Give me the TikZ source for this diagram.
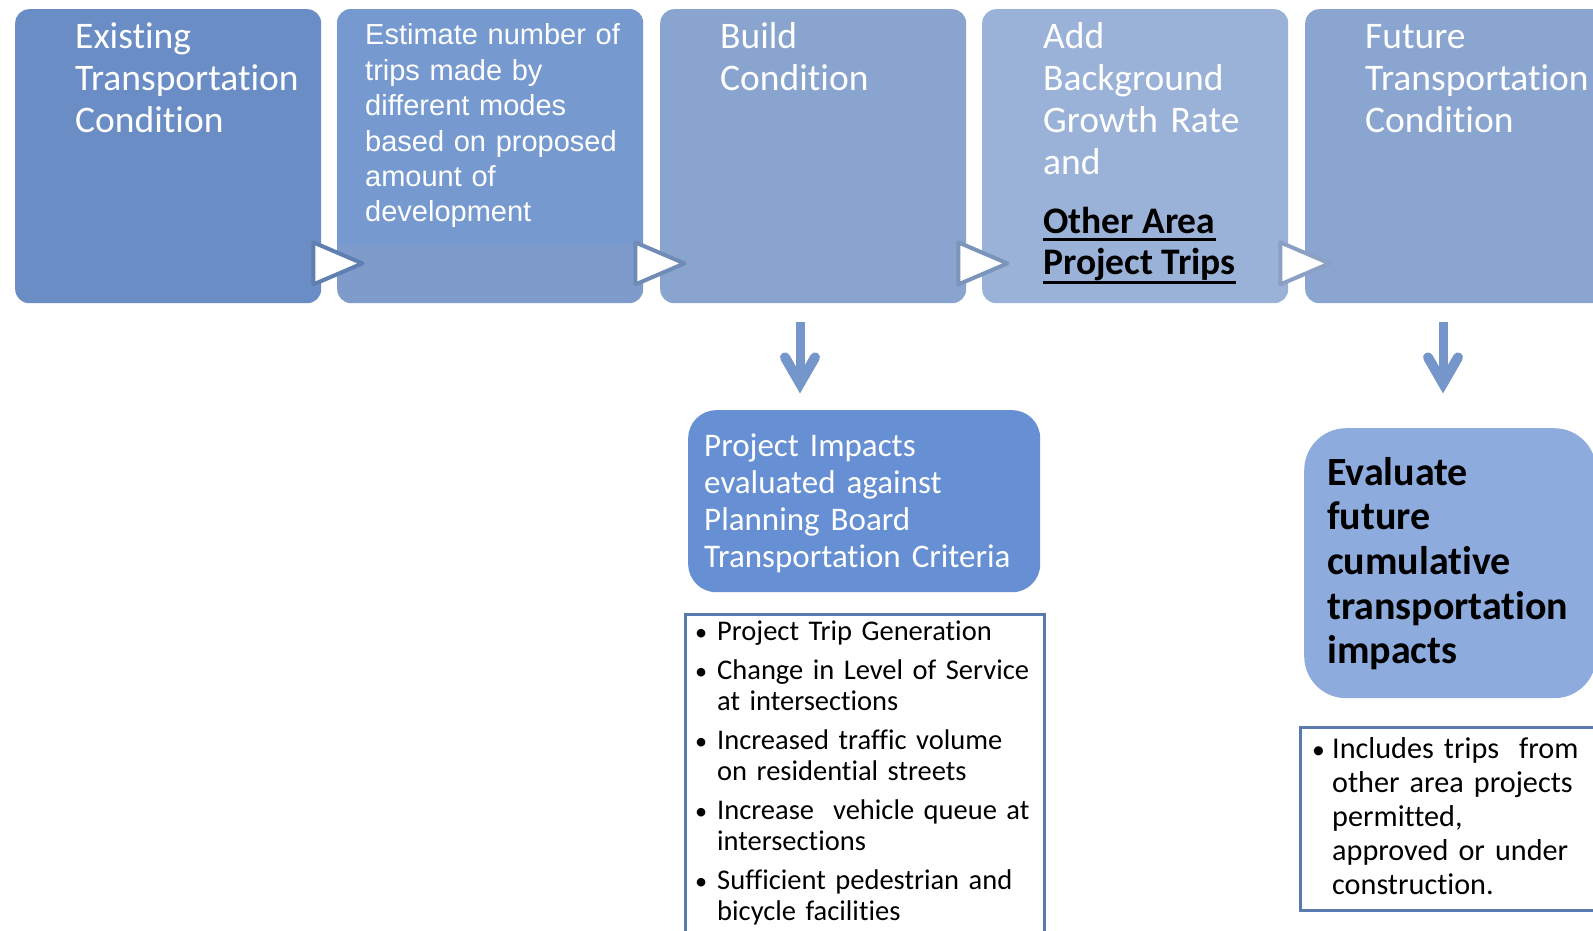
\documentclass[tikz,border=0pt]{standalone}
\usepackage{fontspec}
\setmainfont{Carlito}[Ligatures=NoCommon]
\newfontfamily\arialfamily{Liberation Sans}
\usetikzlibrary{calc}

\definecolor{stepA}{HTML}{6B8DC5}
\definecolor{stepB}{HTML}{7E9BCB}
\definecolor{stepBtop}{HTML}{7699CF}
\definecolor{stepC}{HTML}{89A4CF}
\definecolor{stepD}{HTML}{9BB2D8}
\definecolor{stepE}{HTML}{8AA5D0}
\definecolor{impactfill}{HTML}{6690D3}
\definecolor{evalfill}{HTML}{8DABDD}
\definecolor{arrowblue}{HTML}{7596CB}
\definecolor{listframe}{HTML}{5A7AAE}

% bullet mark and the matching indent of continuation lines
\newcommand\bulletmark[1]{\makebox[#1][l]{\kern1pt\scalebox{0.85}{\textbullet}}}
\newcommand\contline[1]{\hspace*{#1}}

\begin{document}
\begin{tikzpicture}[x=1pt,y=-1pt,
  stepbox/.style={rectangle, rounded corners=14pt, minimum width=306pt,
    minimum height=294pt, anchor=north west, inner sep=0pt},
  steptext/.style={anchor=base west, inner sep=0pt, text width=300pt,
    align=left, text=white, font=\fontsize{37.5}{42}\selectfont},
  chev/.style={fill=white, line width=4pt, line join=round},
  shaft/.style={draw=arrowblue, line width=9pt},
  arrowhead/.style={draw=arrowblue, line width=10pt, line cap=round, line join=miter},
  listbox/.style={draw=listframe, line width=2.5pt, fill=white, anchor=north west, inner sep=0pt},
  listtext/.style={anchor=base west, inner sep=0pt, align=left, text=black},
]
\useasboundingbox (0,0) rectangle (1593,931);
\clip (0,0) rectangle (1593,931);
\fill[white] (0,0) rectangle (1593,931);

% process steps
\node[stepbox, fill=stepA] (b1) at (15,9) {};
\node[stepbox, fill=stepB] (b2) at (337,9) {};
\node[stepbox, fill=stepC] (b3) at (660,9) {};
\node[stepbox, fill=stepD] (b4) at (982,9) {};
\node[stepbox, fill=stepE] (b5) at (1305,9) {};

% lighter text area in the second step
\begin{scope}
  \clip[rounded corners=14pt] (b2.north west) rectangle (b2.south east);
  \fill[stepBtop] (b2.north west) rectangle ($(b2.north east)+(0,236)$);
\end{scope}

% step captions
\node[steptext] (t1) at (75,49) {Existing\\Transportation\\Condition};
\node[steptext, text width=290pt, font=\arialfamily\fontsize{29}{35.4}\selectfont] (t2) at (365,45)
  {Estimate number of\\trips made by\\different modes\\based on proposed\\amount of\\development};
\node[steptext] (t3) at (720,49) {Build\\Condition};
\node[steptext] (t4) at (1043,49) {Add\\Background\\Growth Rate\\and};
\node[anchor=base west, inner sep=0pt, text=black, font=\bfseries\fontsize{37.5}{42}\selectfont] (oa) at (1043,233) {Other Area};
\node[anchor=base west, inner sep=0pt, text=black, font=\bfseries\fontsize{37.5}{42}\selectfont] (pt) at (1043,274) {Project Trips};
\draw[line width=3pt] ($(oa.base west)+(0,6)$) -- ($(oa.base east)+(0,6)$);
\draw[line width=3pt] ($(pt.base west)+(0,8)$) -- ($(pt.base east)+(0,8)$);
\node[steptext] (t5) at (1365,49) {Future\\Transportation\\Condition};

% chevrons between the steps
\draw[chev, draw=stepA!90!black] ($(b1.south east)+(-8,-61)$) -- ($(b1.south east)+(41,-40)$) -- ($(b1.south east)+(-8,-19)$) -- cycle;
\draw[chev, draw=stepB!90!black] ($(b2.south east)+(-8,-61)$) -- ($(b2.south east)+(41,-40)$) -- ($(b2.south east)+(-8,-19)$) -- cycle;
\draw[chev, draw=stepC!90!black] ($(b3.south east)+(-8,-61)$) -- ($(b3.south east)+(41,-40)$) -- ($(b3.south east)+(-8,-19)$) -- cycle;
\draw[chev, draw=stepD!90!black] ($(b4.south east)+(-8,-61)$) -- ($(b4.south east)+(41,-40)$) -- ($(b4.south east)+(-8,-19)$) -- cycle;

% project impacts branch
\coordinate (d1) at ($(b3.south west)+(140,19)$);
\draw[shaft] (d1) -- ++(0,56);
\draw[arrowhead] ($(d1)+(-15,35)$) -- ($(d1)+(0,61)$) -- ($(d1)+(15,35)$);

\node[rectangle, rounded corners=28pt, fill=impactfill, minimum width=352pt, minimum height=182pt,
  anchor=north west, inner sep=0pt] (imp) at (688,410) {};
\node[anchor=base west, inner sep=0pt, text width=340pt, align=left, text=white,
  font=\fontsize{33}{37}\selectfont] (impt) at (704,456)
  {Project Impacts\\evaluated against\\Planning Board\\Transportation Criteria};

\node[listbox, minimum width=359pt, minimum height=340pt] (crit) at (684,613) {};
\node[listtext, text width=345pt, font=\fontsize{28.5}{31}\selectfont] (critt) at (694,640)
  {\bulletmark{23pt}Project Trip Generation\\[8pt]
   \bulletmark{23pt}Change in Level of Service\\
   \contline{23pt}at intersections\\[8pt]
   \bulletmark{23pt}Increased traffic volume\\
   \contline{23pt}on residential streets\\[8pt]
   \bulletmark{23pt}Increase\ \ vehicle queue at\\
   \contline{23pt}intersections\\[8pt]
   \bulletmark{23pt}Sufficient pedestrian and\\
   \contline{23pt}bicycle facilities};

% future conditions branch
\coordinate (d2) at ($(b5.south west)+(138,19)$);
\draw[shaft] (d2) -- ++(0,56);
\draw[arrowhead] ($(d2)+(-15,35)$) -- ($(d2)+(0,61)$) -- ($(d2)+(15,35)$);

\node[rectangle, rounded corners=42pt, fill=evalfill, minimum width=292pt, minimum height=270pt,
  anchor=north west, inner sep=0pt] (eval) at (1304,428) {};
\node[anchor=base west, inner sep=0pt, text width=280pt, align=left, text=black,
  font=\bfseries\fontsize{40}{44.7}\selectfont] (evalt) at (1327,485)
  {Evaluate\\future\\cumulative\\transportation\\impacts};

\node[listbox, minimum width=310pt, minimum height=183pt] (incl) at (1299,726) {};
\node[listtext, text width=290pt, font=\fontsize{30.2}{34}\selectfont] (inclt) at (1311,758)
  {\bulletmark{21pt}Includes trips\ \ from\\
   \contline{21pt}other area projects\\
   \contline{21pt}permitted,\\
   \contline{21pt}approved or under\\
   \contline{21pt}construction.};
\end{tikzpicture}
\end{document}
